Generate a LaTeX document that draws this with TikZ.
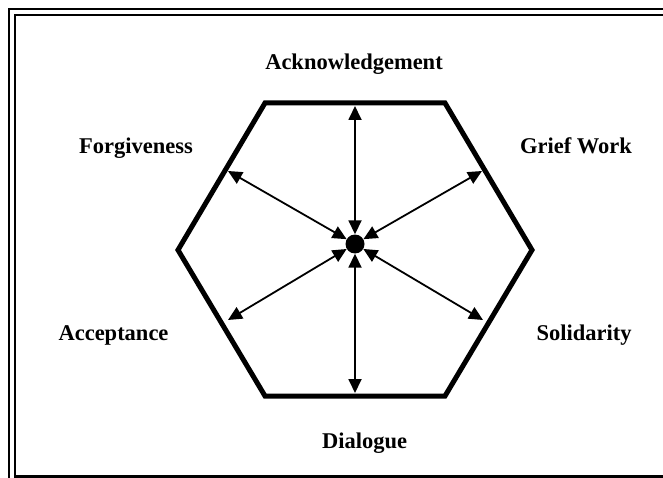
\documentclass[tikz,border=0pt]{standalone}
\usepackage{fontspec}
\setmainfont{Liberation Serif}
\usetikzlibrary{arrows.meta}
\begin{document}
\begin{tikzpicture}[x=1pt,y=-1pt,
  frameline/.style={line width=2.6pt},
  hexline/.style={line width=5pt,line join=miter},
  link/.style={line width=1.8pt,{Triangle[length=14pt,width=13pt]}-{Triangle[length=14pt,width=13pt]}},
  lbl/.style={font=\bfseries\fontsize{22.5}{26}\selectfont,anchor=base,inner sep=0pt}]
\useasboundingbox (0,0) rectangle (663,478);
% frame
\draw[frameline] (9,478) -- (9,9) -- (663,9);
\draw[frameline] (15,478) -- (15,15) -- (663,15);
\draw[frameline] (15,476.5) -- (663,476.5);
% hexagon
\draw[hexline] (265,103) -- (445,103) -- (532,250) -- (445,396) -- (265,396) -- (178,250) -- cycle;
% centre
\node[circle,fill=black,minimum size=19pt,inner sep=0pt] (c) at (355,244) {};
\coordinate (t) at (355,106);
\coordinate (b) at (355,393);
\coordinate (ul) at (228,171);
\coordinate (ur) at (482,171);
\coordinate (ll) at (228,320);
\coordinate (lr) at (483,320);
\foreach \p in {t,b,ul,ur,ll,lr} \draw[link] (c) -- (\p);
% labels
\node[lbl] (l1) at (354,70) {Acknowledgement};
\node[lbl] (l2) at (136,154) {Forgiveness};
\node[lbl] (l3) at (576,154) {Grief Work};
\node[lbl] (l4) at (113.5,340) {Acceptance};
\node[lbl] (l5) at (584,340) {Solidarity};
\node[lbl] (l6) at (364.5,448) {Dialogue};
\end{tikzpicture}
\end{document}
